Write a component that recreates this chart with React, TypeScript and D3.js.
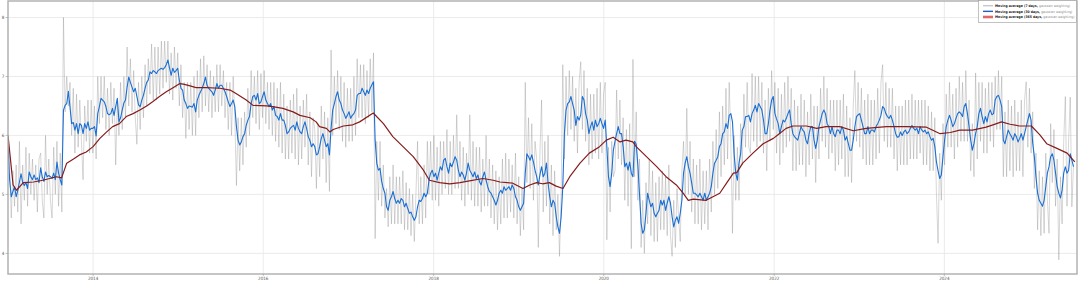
import React, { useLayoutEffect, useRef, useState } from 'react';
import * as d3 from 'd3';

// ---- data -------------------------------------------------------------
const seriesStart = new Date(2013, 0, 1); // weekly samples
const stepDays = 7;

// 30-day moving average (weekly readings)
const blue30: number[] = [
  5.85, 5.25, 4.96, 5.05, 5.13, 4.96, 5.07, 5.21, 5.35, 5.2,
  5.15, 5.2, 5.1, 5.38, 5.3, 5.25, 5.33, 5.25, 5.28, 5.2,
  5.45, 5.3, 5.22, 5.38, 5.3, 5.32, 5.3, 5.27, 5.36, 5.25,
  5.55, 5.36, 5.25, 5.16, 6.43, 6.51, 6.54, 6.75, 6.48, 6.2,
  6.22, 6.09, 6.2, 6.03, 6.2, 6.17, 6.03, 6.2, 6.12, 6.23,
  6.09, 6.12, 6.12, 6.15, 5.99, 6.37, 6.49, 6.63, 6.6, 6.57,
  6.49, 6.37, 6.35, 6.37, 6.46, 6.34, 6.49, 6.63, 6.23, 6.3,
  6.43, 6.55, 6.6, 6.82, 6.99, 6.9, 6.82, 6.74, 6.8, 6.66,
  6.52, 6.49, 6.6, 6.68, 6.8, 6.9, 6.94, 7.08, 7.05, 7.1,
  7.08, 7.05, 7.1, 7.12, 7.14, 7.12, 7.15, 7.2, 7.28, 7.14,
  7.02, 7.14, 7.07, 7.1, 7.14, 6.94, 6.8, 6.77, 6.6, 6.54,
  6.46, 6.5, 6.49, 6.48, 6.54, 6.4, 6.6, 6.68, 6.74, 6.8,
  6.88, 6.99, 6.85, 6.8, 6.77, 6.74, 6.68, 6.77, 6.88, 6.8,
  6.85, 6.85, 6.8, 6.74, 6.66, 6.57, 6.49, 6.54, 6.6, 6.49,
  6.15, 5.92, 5.84, 5.89, 5.98, 6.03, 6.17, 6.26, 6.32, 6.54,
  6.66, 6.68, 6.6, 6.71, 6.54, 6.57, 6.66, 6.74, 6.6, 6.54,
  6.49, 6.54, 6.43, 6.49, 6.34, 6.32, 6.26, 6.37, 6.26, 6.26,
  6.17, 6.03, 6.06, 6.12, 6.15, 6.17, 6.09, 6.23, 6.12, 6.06,
  6.03, 6.15, 6.23, 6.12, 5.98, 5.92, 5.81, 5.86, 5.81, 5.67,
  5.69, 5.81, 5.95, 6.03, 5.92, 5.81, 5.86, 5.67, 6.12, 6.43,
  6.54, 6.66, 6.74, 6.6, 6.54, 6.43, 6.37, 6.29, 6.34, 6.4,
  6.29, 6.34, 6.37, 6.43, 6.68, 6.71,
  6.71, 6.8, 6.74, 6.68, 6.77, 6.71, 6.8, 6.86, 6.91, 5.92,
  5.53, 5.41, 5.44, 5.22, 5.1, 5.02, 4.79, 4.73, 4.9, 4.96,
  5.05, 4.93, 4.85, 4.9, 4.85, 4.93, 4.9, 4.79, 4.85, 4.76,
  4.68, 4.7, 4.62, 4.56, 4.62, 4.79, 4.9, 4.88, 4.93, 5.02,
  4.96, 5.02, 5.24, 5.36, 5.41, 5.3, 5.36, 5.24, 5.36, 5.47,
  5.41, 5.58, 5.61, 5.47, 5.36, 5.53, 5.47, 5.55, 5.64, 5.58,
  5.41, 5.3, 5.38, 5.33, 5.24, 5.36, 5.53, 5.41, 5.36, 5.3,
  5.38, 5.27, 5.33, 5.21, 5.16, 5.3, 5.38, 5.24, 5.13, 5.05,
  5.02, 4.96, 4.9, 4.82, 4.9, 5.02, 5.07, 5.02, 5.13, 5.07,
  5.1, 5.13, 5.07, 5.16, 5.1, 4.96, 4.9, 4.79, 4.73, 4.79,
  4.85, 5.36, 5.69, 5.64, 5.58, 5.67, 5.55, 5.41, 5.3, 5.16,
  5.33, 5.47, 5.3, 5.36, 5.53, 5.19, 4.96, 4.79, 4.9, 4.85,
  4.62, 4.45, 4.34, 4.62, 5.13, 6.03, 6.43, 6.54, 6.57, 6.66,
  6.54, 6.43, 6.17, 6.32, 6.26, 6.35, 6.66, 6.6, 6.37, 6.26,
  6.03, 6.15, 6.23, 6.09, 6.26, 6.15, 6.2, 6.29, 6.2, 6.12,
  6.26, 5.81, 5.3, 5.13, 5.36, 5.75, 5.9, 6.03, 6.15, 6.03,
  6.03, 5.81, 5.47, 5.53, 5.41, 5.55, 5.36, 5.3, 5.9, 5.85,
  5.5, 5.02, 4.51, 4.34, 4.4, 4.68, 5.02, 4.9, 4.79, 4.85,
  4.68, 4.62, 4.68, 4.73, 4.9, 4.82, 4.9, 4.73, 4.85, 4.96,
  4.85, 4.62, 4.45, 4.56, 4.62, 4.51, 4.68, 4.9, 5.36, 5.53,
  5.64, 5.47, 5.36, 5.19, 5.02, 5.02, 4.99, 4.96, 5.02, 4.96,
  4.9, 5.02, 4.9, 4.96, 5.02, 5.13, 5.36, 5.53, 5.58, 5.64,
  5.81,
  5.86, 6.03, 6.06, 6.2, 6.12, 6.34, 6.37, 6.23, 5.69, 5.36,
  5.24, 5.53, 5.69, 6.09, 6.15, 6.32, 6.32, 6.34, 6.23, 6.37,
  6.43, 6.51, 6.4, 6.54, 6.49, 6.43, 6.26, 6.03, 6.03, 6.2,
  6.43, 6.6, 6.66, 6.37, 6.28, 6.2, 6.03, 6.15, 6.26, 6.23,
  6.29, 6.37, 6.43, 6.2, 6.03, 5.98, 5.95, 5.92, 6.03, 6.15,
  6.09, 6.06, 5.92, 5.86, 6.03, 6.15, 6.15, 5.92, 5.78, 5.92,
  6.15, 6.26, 6.37, 6.43, 6.37, 6.2, 6.15, 6.03, 6.15, 6.03,
  5.98, 6.09, 6.09, 6.03, 6.15, 6.09, 5.92, 5.98, 5.86, 5.75,
  5.75, 5.92, 6.15, 6.32, 6.35, 6.37, 6.26, 6.15, 6.03, 6.03,
  6.15, 6.03, 6.09, 6.09, 6.06, 6.15, 6.2, 6.26, 6.34, 6.49,
  6.46, 6.37, 6.32, 6.29, 6.34, 6.26, 6.15, 6.03, 5.97, 5.98,
  6.06, 6.0, 6.06, 6.09, 6.03, 6.06, 6.12, 6.17, 6.12, 6.09,
  6.12, 6.03, 6.15, 6.09, 6.06, 6.09, 6.03, 6.06, 5.98, 5.92,
  5.95, 5.81, 5.55, 5.4, 5.27, 5.33, 5.64, 5.92, 6.15, 6.26,
  6.34, 6.26, 6.15, 6.2, 6.29, 6.37, 6.4, 6.37, 6.32, 6.49,
  6.54, 6.37, 6.15, 5.92, 5.75, 5.86, 6.03, 6.15, 6.37, 6.46,
  6.32, 6.2, 6.32, 6.23, 6.37, 6.43, 6.35, 6.37, 6.6, 6.66,
  6.68, 6.6, 6.49, 5.92, 5.86, 5.98, 6.09, 6.03, 5.98, 5.92,
  6.03, 5.98, 5.89, 5.95, 6.03, 5.92, 6.03, 6.15, 6.26, 6.37,
  6.26, 5.87, 5.64, 5.3, 5.02, 4.9, 4.85, 4.8, 4.9, 5.13,
  5.36, 5.47, 5.64, 5.69, 5.58, 5.36, 5.13, 5.02, 4.94, 5.07,
  5.36, 5.47, 5.36, 5.41, 5.69, 5.58, 5.47,
];

// 7-day moving average (weekly readings)
const grey7: number[] = [
  6.0, 5.5, 4.6, 5.4, 4.8, 5.5, 4.7, 5.9, 4.5, 5.5,
  4.9, 5.8, 4.8, 5.7, 5.0, 5.6, 4.9, 5.5, 4.7, 5.6,
  5.7, 4.9, 4.6, 6.0, 5.0, 5.6, 4.9, 4.6, 5.8, 5.0,
  5.9, 4.8, 5.7, 4.7, 8.0, 6.4, 7.0, 6.5, 6.9, 6.0,
  6.8, 5.7, 6.7, 5.8, 6.6, 5.9, 5.25, 6.5, 5.9, 6.6,
  5.7, 6.6, 5.7, 6.5, 5.6, 7.0, 6.2, 7.0, 6.3, 7.0,
  6.1, 6.8, 6.0, 6.9, 6.2, 6.8, 5.5, 6.6, 6.0, 6.9,
  6.1, 7.0, 6.3, 7.5, 6.5, 7.3, 6.4, 7.1, 6.3, 5.85,
  6.9, 6.1, 7.0, 6.3, 7.2, 6.5, 7.3, 6.7, 7.55, 6.6,
  7.5, 6.6, 7.5, 6.7, 7.6, 6.8, 7.6, 6.9, 7.6, 6.7,
  7.4, 6.6, 7.5, 6.8, 7.4, 6.5, 7.2, 6.3, 6.9, 5.95,
  6.9, 6.1, 6.9, 6.0, 7.0, 6.0, 7.1, 6.3, 7.3, 6.4,
  7.35, 6.5, 7.2, 6.4, 7.1, 6.3, 7.0, 6.4, 7.2, 6.4,
  7.2, 6.5, 7.1, 6.3, 6.9, 6.1, 6.9, 6.0, 7.0, 6.3,
  5.15, 6.3, 5.4, 6.3, 5.5, 6.4, 5.8, 6.8, 6.0, 7.1,
  6.3, 7.0, 6.2, 7.1, 6.1, 7.05, 6.3, 7.1, 6.2, 6.9,
  6.1, 6.9, 6.0, 6.9, 5.9, 6.8, 5.8, 6.9, 5.7, 6.7,
  5.6, 6.5, 5.6, 6.6, 5.7, 6.7, 5.6, 6.8, 5.5, 6.5,
  5.6, 6.6, 5.8, 6.7, 5.5, 6.4, 5.3, 6.3, 6.1, 5.1,
  6.2, 5.3, 6.5, 5.6, 6.4, 5.2, 6.3, 5.05, 7.45, 6.0,
  7.0, 6.2, 7.1, 6.1, 7.0, 5.9, 6.9, 5.8, 6.8, 5.9,
  6.8, 5.9, 7.0, 6.0, 7.3, 6.3,
  7.2, 6.3, 7.2, 6.2, 7.1, 6.3, 7.3, 6.4, 7.4, 4.25,
  5.9, 4.9, 5.9, 4.8, 5.5, 4.6, 5.1, 4.45, 5.3, 4.5,
  5.5, 4.5, 5.3, 4.5, 5.3, 4.5, 5.4, 4.4, 5.2, 4.4,
  5.1, 4.3, 5.0, 4.2, 5.0, 5.9, 4.5, 5.3, 4.5, 5.5,
  4.6, 5.9, 5.0, 5.9, 4.9, 6.0, 4.9, 5.8, 4.8, 5.9,
  5.0, 5.9, 5.1, 6.1, 5.0, 5.9, 5.0, 6.0, 5.1, 6.35,
  5.1, 5.9, 4.9, 5.8, 4.8, 5.7, 5.0, 6.35, 4.9, 5.9,
  4.8, 5.8, 4.8, 5.8, 4.7, 5.6, 4.8, 6.0, 4.8, 5.6,
  4.6, 5.5, 4.5, 5.4, 4.4, 5.3, 4.5, 5.6, 4.6, 5.7,
  4.6, 5.6, 4.7, 5.5, 4.6, 5.7, 4.5, 5.3, 4.3, 5.1,
  4.4, 6.9, 5.2, 6.3, 5.1, 6.2, 4.9, 5.9, 5.6, 4.1,
  5.7, 6.6, 4.7, 5.9, 4.8, 6.0, 4.5, 5.5, 4.3, 5.4,
  4.4, 5.0, 3.95, 5.0, 7.2, 5.6, 7.0, 6.0, 7.1, 6.1,
  7.0, 5.9, 6.8, 5.7, 6.9, 7.25, 6.1, 7.1, 5.9, 6.8,
  5.5, 6.7, 5.6, 6.7, 5.7, 6.8, 5.6, 6.9, 5.7, 6.7,
  6.9, 4.23, 5.8, 4.7, 5.9, 5.3, 5.4, 6.77, 5.6, 6.6,
  5.5, 6.3, 4.9, 6.1, 4.8, 6.2, 4.08, 7.29, 5.3, 6.4,
  4.9, 5.6, 4.1, 4.9, 4.0, 5.2, 4.5, 5.6, 4.3, 5.4,
  4.2, 5.2, 4.2, 5.3, 4.4, 5.4, 4.4, 5.3, 4.3, 5.5,
  4.3, 3.95, 4.9, 4.1, 5.1, 4.6, 4.2, 5.4, 5.9, 5.0,
  6.46, 5.0, 5.9, 4.7, 5.6, 4.5, 5.5, 4.5, 5.6, 4.4,
  5.4, 4.5, 5.4, 4.4, 5.6, 4.7, 5.9, 5.0, 6.1, 5.1,
  6.4,
  5.3, 6.5, 5.5, 6.8, 5.6, 6.9, 5.9, 4.34, 6.0, 4.9,
  5.8, 4.9, 6.2, 5.5, 6.7, 5.8, 6.9, 5.8, 5.7, 7.05,
  5.9, 7.0, 5.8, 7.0, 5.9, 6.9, 5.7, 6.6, 5.4, 6.8,
  5.9, 7.1, 6.1, 6.9, 5.7, 6.8, 5.5, 6.7, 5.7, 6.9,
  5.8, 7.0, 5.9, 6.8, 5.4, 6.6, 5.4, 6.5, 5.5, 6.7,
  5.5, 6.6, 5.3, 6.4, 5.5, 6.7, 5.6, 6.5, 5.2, 6.5,
  5.6, 6.8, 5.9, 7.0, 5.8, 6.8, 5.6, 6.6, 5.7, 6.6,
  5.4, 6.6, 5.5, 6.6, 5.6, 6.7, 5.3, 6.5, 5.3, 6.3,
  5.2, 6.5, 7.1, 5.9, 6.9, 5.8, 6.8, 5.6, 6.6, 5.5,
  6.7, 5.5, 6.6, 5.5, 6.6, 5.6, 6.8, 5.7, 6.9, 7.2,
  5.9, 6.9, 5.8, 6.8, 5.8, 6.8, 5.6, 6.5, 5.4, 6.5,
  5.5, 6.5, 5.5, 6.6, 5.5, 6.6, 5.6, 6.7, 5.6, 6.6,
  5.6, 6.6, 5.7, 6.6, 5.5, 6.6, 5.5, 6.5, 5.4, 6.4,
  5.4, 6.3, 5.0, 4.17, 5.7, 4.9, 6.2, 5.5, 6.7, 5.8,
  6.9, 5.8, 6.7, 5.6, 6.8, 5.8, 7.0, 5.9, 6.9, 5.9,
  7.1, 5.9, 6.6, 5.4, 6.2, 5.3, 7.06, 5.6, 6.9, 5.9,
  6.9, 5.7, 6.8, 5.7, 6.9, 5.9, 6.9, 5.8, 7.0, 6.1,
  7.1, 6.1, 7.0, 5.3, 6.4, 5.3, 6.6, 5.4, 6.5, 5.3,
  6.6, 5.4, 6.4, 5.4, 6.6, 5.3, 6.6, 6.91, 5.8, 6.8,
  5.7, 6.4, 5.1, 5.7, 4.4, 5.4, 4.3, 5.3, 4.34, 5.7,
  4.9, 4.34, 6.2, 5.2, 6.1, 4.8, 5.6, 3.89, 5.3, 4.5,
  5.9, 6.66, 4.8, 5.9, 6.65, 4.79, 5.5,
];

// 365-day moving average (decimal year, value)
const redYears: number[] = [
  2013.0, 2013.06, 2013.10, 2013.18, 2013.30, 2013.41, 2013.49, 2013.57, 2013.63, 2013.69, 2013.77, 2013.84, 2013.92,
  2014.0, 2014.08, 2014.16, 2014.23, 2014.31, 2014.39, 2014.47, 2014.55, 2014.63, 2014.70, 2014.78, 2014.86, 2014.94,
  2015.02, 2015.06, 2015.14, 2015.21, 2015.33, 2015.49, 2015.61, 2015.68, 2015.80, 2015.88,
  2016.04, 2016.11, 2016.23, 2016.35, 2016.43, 2016.55, 2016.62, 2016.66, 2016.74, 2016.78, 2016.82, 2016.94,
  2017.05, 2017.13, 2017.29, 2017.41, 2017.52, 2017.64, 2017.76, 2017.88, 2017.95,
  2018.07, 2018.19, 2018.31, 2018.42, 2018.58, 2018.70, 2018.78, 2018.93,
  2019.05, 2019.13, 2019.21, 2019.28, 2019.36, 2019.44, 2019.52, 2019.60, 2019.72, 2019.83, 2019.95,
  2020.03, 2020.11, 2020.19, 2020.26, 2020.34, 2020.38, 2020.50, 2020.62, 2020.73, 2020.85, 2020.93, 2020.99,
  2021.05, 2021.20, 2021.28, 2021.36, 2021.44, 2021.52, 2021.56, 2021.63, 2021.75, 2021.87, 2021.99,
  2022.06, 2022.14, 2022.22, 2022.38, 2022.50, 2022.61, 2022.77, 2022.93,
  2023.08, 2023.32, 2023.55, 2023.79, 2023.95,
  2024.07, 2024.18, 2024.33, 2024.49, 2024.57, 2024.67, 2024.77, 2024.88,
  2025.02, 2025.12, 2025.20, 2025.32, 2025.44, 2025.53,
];
const red365: number[] = [
  6.0, 5.16, 5.07, 5.2, 5.21, 5.24, 5.27, 5.3, 5.28, 5.53, 5.6, 5.67, 5.72,
  5.81, 5.95, 6.06, 6.15, 6.2, 6.32, 6.37, 6.43, 6.5, 6.57, 6.66, 6.74, 6.81,
  6.88, 6.87, 6.84, 6.81, 6.81, 6.8, 6.77, 6.71, 6.6, 6.51,
  6.5, 6.49, 6.46, 6.4, 6.34, 6.3, 6.23, 6.15, 6.12, 6.06, 6.1, 6.16,
  6.18, 6.23, 6.38, 6.2, 5.98, 5.81, 5.64, 5.41, 5.24,
  5.2, 5.18, 5.2, 5.23, 5.27, 5.24, 5.21, 5.19,
  5.1, 5.16, 5.2, 5.18, 5.2, 5.14, 5.1, 5.3, 5.53, 5.7, 5.81,
  5.92, 5.97, 5.89, 5.92, 5.89, 5.81, 5.64, 5.47, 5.3, 5.16, 5.02, 4.9,
  4.92, 4.9, 4.96, 5.02, 5.19, 5.36, 5.37, 5.53, 5.7, 5.86, 5.95,
  6.03, 6.12, 6.16, 6.16, 6.12, 6.15, 6.15, 6.08,
  6.12, 6.15, 6.15, 6.14, 6.03,
  6.05, 6.09, 6.09, 6.14, 6.18, 6.23, 6.19, 6.16,
  6.16, 6.01, 5.86, 5.78, 5.7, 5.55,
];

const yTicks = [4, 5, 6, 7, 8];
const xTickYears = [2014, 2016, 2018, 2020, 2022, 2024];
const legendBold = ['Moving average (7 days,', 'Moving average (30 days,', 'Moving average (365 days,'];
const legendRest = ['gaussian weighting)', 'gaussian weighting)', 'gaussian weighting)'];

// ---- chart ------------------------------------------------------------
const W = 1080;
const H = 282;
const plot = { left: 8, right: 1077, top: 1, bottom: 274 };

function fromDecimalYear(v: number): Date {
  const y0 = Math.floor(v);
  const a = new Date(y0, 0, 1).getTime();
  const b = new Date(y0 + 1, 0, 1).getTime();
  return new Date(a + (v - y0) * (b - a));
}

export default function App() {
  const x = d3
    .scaleTime()
    .domain([new Date(2013, 0, 1), new Date(2025, 6, 23)])
    .range([plot.left, plot.right]);
  const y = d3.scaleLinear().domain([3.65, 8.28]).range([plot.bottom, plot.top]);

  const weekDate = (i: number) => d3.timeDay.offset(seriesStart, i * stepDays);
  const weekly = d3
    .line<number>()
    .x((_, i) => x(weekDate(i)))
    .y((d) => y(d));
  const redLine = d3
    .line<number>()
    .x((_, i) => x(fromDecimalYear(redYears[i])))
    .y((d) => y(d));

  const legendColors = ['#c8c8c8', '#1f5fbf', '#e06a6a'];
  const legendWidths = [1.4, 1.4, 2.6];
  const font = "'DejaVu Sans Condensed', 'DejaVu Sans', sans-serif";
  const baseFs = 3.75;
  const textStart = 995;
  const textEnd = 1074.5;
  const gap = 1.0;

  const boldRefs = useRef<(SVGTextElement | null)[]>([]);
  const restRefs = useRef<(SVGTextElement | null)[]>([]);
  const [layout, setLayout] = useState<{ fs: number; bw: number[] } | null>(null);
  useLayoutEffect(() => {
    if (layout) return;
    const bw = boldRefs.current.map((el) => (el ? el.getComputedTextLength() : 40));
    const rw = restRefs.current.map((el) => (el ? el.getComputedTextLength() : 34));
    const maxTotal = Math.max(...bw.map((b, i) => b + gap + rw[i]));
    const s = Math.min(1, (textEnd - textStart) / maxTotal);
    setLayout({ fs: baseFs * s, bw: bw.map((b) => b * s) });
  }, [layout]);

  const fs = layout ? layout.fs : baseFs;

  return (
    <svg
      width={W}
      height={H}
      style={{ position: 'absolute', left: 0, top: 0, background: '#fff' }}
      fontFamily={font}
    >
      <defs>
        <clipPath id="plotClip">
          <rect x={plot.left} y={plot.top} width={plot.right - plot.left} height={plot.bottom - plot.top} />
        </clipPath>
      </defs>
      <rect x={0} y={0} width={W} height={H} fill="#fff" />

      {/* grid */}
      {yTicks.map((t) => (
        <line key={'gy' + t} x1={plot.left} x2={plot.right} y1={y(t)} y2={y(t)} stroke="#e6e6e6" strokeWidth={0.8} />
      ))}
      {xTickYears.map((yr) => {
        const px = x(new Date(yr, 0, 1));
        return <line key={'gx' + yr} x1={px} x2={px} y1={plot.top} y2={plot.bottom} stroke="#e6e6e6" strokeWidth={0.8} />;
      })}

      {/* series */}
      <g clipPath="url(#plotClip)">
        <path d={weekly(grey7) || ''} fill="none" stroke="#808080" strokeOpacity={0.45} strokeWidth={0.7} />
        <path d={weekly(blue30) || ''} fill="none" stroke="#1a6fd4" strokeWidth={1.1} strokeLinejoin="round" />
        <path d={redLine(red365) || ''} fill="none" stroke="#861c1c" strokeWidth={1.2} strokeLinejoin="round" />
      </g>

      {/* frame */}
      <rect
        x={plot.left}
        y={plot.top}
        width={plot.right - plot.left}
        height={plot.bottom - plot.top}
        fill="none"
        stroke="#adadad"
        strokeWidth={1.4}
      />

      {/* y axis */}
      {yTicks.map((t) => (
        <g key={'ty' + t}>
          <line x1={5.5} x2={plot.left} y1={y(t)} y2={y(t)} stroke="#999" strokeWidth={0.6} />
          <text x={3} y={y(t) + 1.6} fontSize={4.5} textAnchor="middle" fill="#555">
            {t}
          </text>
        </g>
      ))}

      {/* x axis */}
      {xTickYears.map((yr) => {
        const px = x(new Date(yr, 0, 1));
        return (
          <g key={'tx' + yr}>
            <line x1={px} x2={px} y1={plot.bottom} y2={plot.bottom + 2} stroke="#999" strokeWidth={0.6} />
            <text x={px} y={280.3} fontSize={4.5} textAnchor="middle" fill="#555">
              {yr}
            </text>
          </g>
        );
      })}

      {/* legend */}
      <g>
        <rect x={978.5} y={0.5} width={98} height={22} fill="#fff" stroke="#9a9a9a" strokeWidth={0.6} />
        {legendBold.map((b, i) => {
          const ly = 5.7 + i * 5.65;
          const bw = layout ? layout.bw[i] : 40;
          const rx = textStart + bw + gap;
          return (
            <g key={'lg' + i}>
              <line x1={983} x2={993} y1={ly} y2={ly} stroke={legendColors[i]} strokeWidth={legendWidths[i]} />
              <text
                ref={(el) => {
                  boldRefs.current[i] = el;
                }}
                x={textStart}
                y={ly + 1.3}
                fontSize={fs}
                fontWeight="bold"
                fill="#222"
              >
                {b}
              </text>
              <text
                ref={(el) => {
                  restRefs.current[i] = el;
                }}
                x={rx}
                y={ly + 1.3}
                fontSize={fs}
                fill="#888"
              >
                {legendRest[i]}
              </text>
            </g>
          );
        })}
      </g>
    </svg>
  );
}
